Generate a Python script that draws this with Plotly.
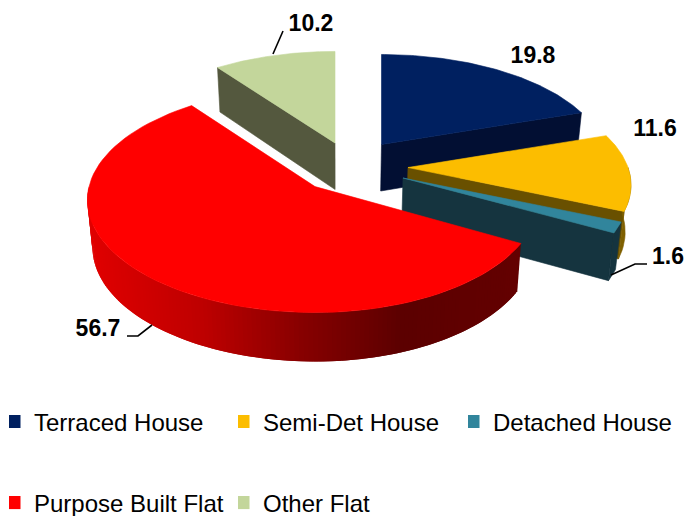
import numpy as np
import plotly.graph_objects as go

# ---- data ----
categories = ["Terraced House", "Semi-Det House", "Detached House", "Purpose Built Flat", "Other Flat"]
values = [19.8, 11.6, 1.6, 56.7, 10.2]

# ---- style / layout ----
top_colors = ["#002060", "#FCBD00", "#31859C", "#FF0000", "#C3D69B"]
cut_colors = ["#020F33", "#695000", "#15343F", "#640000", "#54583E"]
rim_colors = ["#020F33", "#7F6000", "#15343F", None, "#54583E"]
apex_x = [381.5, 408, 403, 315, 335]
apex_y = [144.5, 167.5, 178, 186.6, 143]
radius_right = [222, 220, 222, 221.6, 222]
radius_left = [222, 222, 222, 226, 222]
radius_y = [104.7, 104.7, 104.7, 110.8, 106.5]
persp = [0.163, 0.163, 0.163, 0.12, 0.163]
label_x = [533, 655, 668, 98, 311]
label_y = [57, 130, 258, 330, 25]
leaders = [None,
           None,
           ([647, 635, 611], [264, 264, 275]),
           ([127, 138, 152], [336, 336, 325]),
           ([283, 273], [31, 54])]
legend_x = [9, 238, 468, 9, 238]   # left edge of each legend box
legend_y = [422, 422, 422, 503, 503]
FONT = "Liberation Sans"
DEPTH, DEPTH_TILT, VANISH_X, VANISH_K = 46.5, 2.5, 340.0, 0.02
W, H = 685, 516


def rim(i, theta):
    u, v = np.sin(theta), np.cos(theta)
    s = 1.0 / (1.0 + persp[i] * v)
    rx = np.where(u < 0, radius_left[i], radius_right[i])
    return apex_x[i] + rx * u * s, apex_y[i] - radius_y[i] * v * s


def drop(x, y, v):
    return x + (VANISH_X - x) * VANISH_K, y + DEPTH - DEPTH_TILT * v


def poly(xs, ys, color, width=0.6):
    return go.Scatter(x=xs, y=ys, mode="lines", fill="toself", fillcolor=color,
                      line=dict(color=color, width=width), hoverinfo="skip", showlegend=False)


def red_shade(x):
    r = np.interp(x, [90, 200, 300, 400, 520], [224, 190, 135, 92, 100])
    return "rgb(%d,0,0)" % r


fig = go.Figure()
edges = np.radians(np.cumsum([0] + values) / sum(values) * 360.0)

for i in sorted(range(len(values)), key=lambda k: apex_y[k]):
    ax, ay, a0, a1 = apex_x[i], apex_y[i], edges[i], edges[i + 1]
    # visible flat cut faces
    for ang, normal in ((a0, a0 - np.pi / 2), (a1, a1 + np.pi / 2)):
        if np.cos(normal) < -0.01:
            px, py = rim(i, ang)
            bx, by = drop(px, py, np.cos(ang))
            cx, cy = drop(ax, ay, 0)
            fig.add_trace(poly([ax, float(px), float(bx), cx, ax], [ay, float(py), float(by), cy, ay], cut_colors[i]))
    # visible outer wall
    lo, hi = max(a0, np.pi / 2), min(a1, 3 * np.pi / 2)
    if hi > lo:
        if rim_colors[i] is None:
            # shaded wall: drawn as overlapping strips so no seams show
            th = np.linspace(lo, hi, 141)
            for a, b in zip(th[:-2], th[2:]):
                xa, ya = rim(i, a)
                xb, yb = rim(i, b)
                xc, yc = drop(xb, yb, np.cos(b))
                xd, yd = drop(xa, ya, np.cos(a))
                fig.add_trace(poly([float(v) for v in (xa, xb, xc, xd, xa)],
                                   [float(v) for v in (ya, yb, yc, yd, ya)],
                                   red_shade((xa + xb) / 2), width=0))
        else:
            th = np.linspace(lo, hi, 12)
            xt, yt = rim(i, th)
            xb, yb = drop(xt, yt, np.cos(th))
            fig.add_trace(poly(list(xt) + list(xb[::-1]) + [xt[0]],
                               list(yt) + list(yb[::-1]) + [yt[0]], rim_colors[i]))
    # top face
    th = np.linspace(a0, a1, 80)
    xt, yt = rim(i, th)
    fig.add_trace(poly([ax] + list(xt) + [ax], [ay] + list(yt) + [ay], top_colors[i]))

# leader lines and data labels
for i, seg in enumerate(leaders):
    if seg:
        fig.add_trace(go.Scatter(x=seg[0], y=seg[1], mode="lines", line=dict(color="#000000", width=1.6),
                                 hoverinfo="skip", showlegend=False))
fig.add_trace(go.Scatter(x=label_x, y=label_y, mode="text", text=[str(v) for v in values],
                         textposition="middle center",
                         textfont=dict(family=FONT, size=23, color="#000000", weight="bold"),
                         hoverinfo="skip", showlegend=False))

# legend: one positioned legend per entry so that the wide row gap is kept
layout_legends = {}
for i, name in enumerate(categories):
    key = "legend" if i == 0 else "legend%d" % (i + 1)
    fig.add_trace(go.Scatter(x=[None], y=[None], mode="markers", name=name, legend=key,
                             marker=dict(symbol="square", size=13, color=top_colors[i])))
    layout_legends[key] = dict(x=legend_x[i] / W, y=1 - legend_y[i] / H, xanchor="left", yanchor="middle",
                               bgcolor="rgba(0,0,0,0)", font=dict(family=FONT, size=24, color="#000000"),
                               indentation=-15, itemclick=False, itemdoubleclick=False)

fig.update_layout(width=W, height=H, margin=dict(l=0, r=0, t=0, b=0, autoexpand=False), autosize=False,
                  paper_bgcolor="#FFFFFF", plot_bgcolor="#FFFFFF",
                  xaxis=dict(range=[0, W], visible=False, fixedrange=True),
                  yaxis=dict(range=[H, 0], visible=False, fixedrange=True),
                  **layout_legends)

fig.write_html("out.html", config={"displayModeBar": False},
               post_script="document.body.style.margin='0';document.documentElement.style.overflow='hidden';")
